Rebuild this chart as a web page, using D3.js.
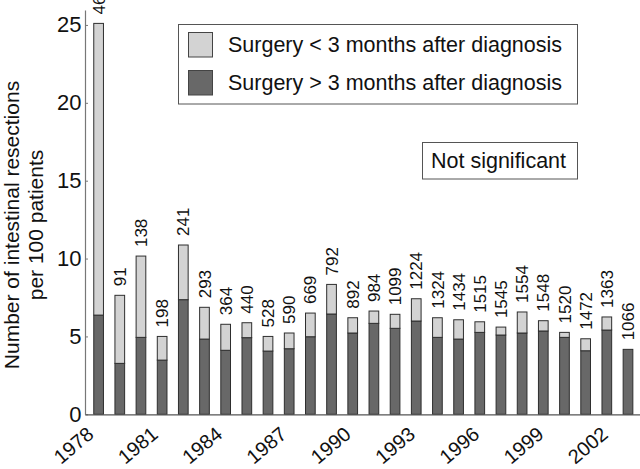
<!DOCTYPE html>
<html>
<head>
<meta charset="utf-8">
<script src="https://cdn.jsdelivr.net/npm/d3@7"></script>
<style>
  html, body { margin: 0; padding: 0; background: #fff; }
  svg { display: block; font-family: "Liberation Sans", Arial, sans-serif; }
</style>
</head>
<body>
<svg id="chart" width="640" height="469"></svg>
<script>
// ---- data ----
const years = [1978,1979,1980,1981,1982,1983,1984,1985,1986,1987,1988,1989,1990,
               1991,1992,1993,1994,1995,1996,1997,1998,1999,2000,2001,2002,2003];
// surgery > 3 months after diagnosis (dark)
const over3 = [6.37,3.27,4.94,3.48,7.36,4.83,4.11,4.92,4.06,4.21,4.98,6.44,5.22,
               5.84,5.52,5.99,4.94,4.83,5.26,5.09,5.22,5.35,4.94,4.08,5.41,4.17];
// surgery < 3 months after diagnosis (light, stacked on top)
const under3 = [18.73,4.37,5.22,1.52,3.51,2.04,1.67,0.96,0.94,1.01,1.52,1.90,0.98,
                0.79,0.90,1.43,1.26,1.24,0.68,0.51,1.35,0.66,0.32,0.77,0.84,0];
const patients = [46,91,138,198,241,293,364,440,528,590,669,792,892,
                  984,1099,1224,1324,1434,1515,1545,1554,1548,1520,1472,1363,1066];
const yTicks = [0,5,10,15,20,25];
const xTickYears = [1978,1981,1984,1987,1990,1993,1996,1999,2002];
const seriesNames = ["Surgery < 3 months after diagnosis", "Surgery > 3 months after diagnosis"];
const noteText = "Not significant";

// ---- build ----
const svg = d3.select("#chart");
const lightFill = "#d3d3d3", darkFill = "#686868", barStroke = "#2e2e2e";

const x = d3.scaleBand().domain(years).range([85, 641.6])
  .paddingInner(0.495).paddingOuter(0.39);
const y = d3.scaleLinear().domain([0, 25.96]).range([414.3, 10]);
const half = x.bandwidth() / 2;
// year axis used for the rotated year labels
const xYear = d3.scaleLinear().domain([1978, 2002])
  .range([x(1978) + half - 5, x(2002) + half + 1]);

const rows = years.map((yr, i) => ({ year: yr, over: over3[i], under: under3[i], n: patients[i] }));

// bars
const g = svg.append("g");
g.selectAll("rect.dark").data(rows).join("rect")
  .attr("class", "dark")
  .attr("x", d => x(d.year) + 0.5)
  .attr("width", x.bandwidth() - 1)
  .attr("y", d => y(d.over))
  .attr("height", d => y(0) - y(d.over))
  .attr("fill", darkFill).attr("stroke", barStroke).attr("stroke-width", 1);
g.selectAll("rect.light").data(rows.filter(d => d.under > 0)).join("rect")
  .attr("class", "light")
  .attr("x", d => x(d.year) + 0.5)
  .attr("width", x.bandwidth() - 1)
  .attr("y", d => y(d.over + d.under))
  .attr("height", d => y(d.over) - y(d.over + d.under))
  .attr("fill", lightFill).attr("stroke", barStroke).attr("stroke-width", 1);

// bar count labels
g.selectAll("text.n").data(rows).join("text")
  .attr("class", "n")
  .attr("transform", d => `translate(${x(d.year) + half},${y(d.over + d.under) - 9}) rotate(-90)`)
  .attr("dy", "0.36em")
  .attr("text-anchor", "start")
  .attr("font-size", 17)
  .attr("fill", "#111")
  .text(d => d.n);

// y axis
const yAxis = svg.append("g").attr("transform", "translate(85,0)")
  .call(d3.axisLeft(y).tickValues(yTicks).tickSizeInner(-3).tickSizeOuter(0).tickPadding(3.5));
yAxis.select(".domain").attr("stroke", "#777").attr("stroke-width", 1.2);
yAxis.selectAll(".tick line").attr("stroke", "#777");
yAxis.selectAll(".tick text").attr("font-size", 22).attr("fill", "#111")
  .attr("font-family", "Liberation Sans, Arial, sans-serif");

// x axis: baseline line from band scale range
const xAxisLine = svg.append("g").attr("transform", `translate(0,${y(0)})`)
  .call(d3.axisBottom(x).tickValues([]).tickSize(0));
xAxisLine.select(".domain").attr("stroke", "#555").attr("stroke-width", 1.2);

// x year labels
const xAxis = svg.append("g").attr("transform", `translate(0,${y(0)})`)
  .call(d3.axisBottom(xYear).tickValues(xTickYears).tickSize(0).tickFormat(d3.format("d")));
xAxis.select(".domain").remove();
xAxis.selectAll(".tick text")
  .attr("y", null).attr("dy", null)
  .attr("transform", "translate(1,22) rotate(-40)")
  .attr("text-anchor", "end")
  .attr("font-size", 20).attr("fill", "#111")
  .attr("font-family", "Liberation Sans, Arial, sans-serif");

// y title
const title = svg.append("text")
  .attr("transform", "translate(0,225) rotate(-90)")
  .attr("text-anchor", "middle")
  .attr("font-size", 21).attr("fill", "#111");
title.append("tspan").attr("x", 0).attr("y", 19).text("Number of intestinal resections");
title.append("tspan").attr("x", 0).attr("y", 43).text("per 100 patients");

// legend
const legend = svg.append("g");
legend.append("rect").attr("x", 178.5).attr("y", 24.5).attr("width", 399).attr("height", 79.5)
  .attr("fill", "#fff").attr("stroke", "#555").attr("stroke-width", 1);
const legendFills = [lightFill, darkFill];
seriesNames.forEach((name, i) => {
  const yy = 32.5 + i * 38;
  legend.append("rect").attr("x", 188.5).attr("y", yy).attr("width", 24).attr("height", 24.5)
    .attr("fill", legendFills[i]).attr("stroke", "#444").attr("stroke-width", 1);
  legend.append("text").attr("x", 228).attr("y", yy + 19.5)
    .attr("font-size", 21.5).attr("fill", "#111").text(name);
});

// note box
svg.append("rect").attr("x", 422.5).attr("y", 142.5).attr("width", 155).attr("height", 36.5)
  .attr("fill", "#fff").attr("stroke", "#555").attr("stroke-width", 1);
svg.append("text").attr("x", 431).attr("y", 168).attr("font-size", 21.5).attr("fill", "#111").text(noteText);
</script>
</body>
</html>
